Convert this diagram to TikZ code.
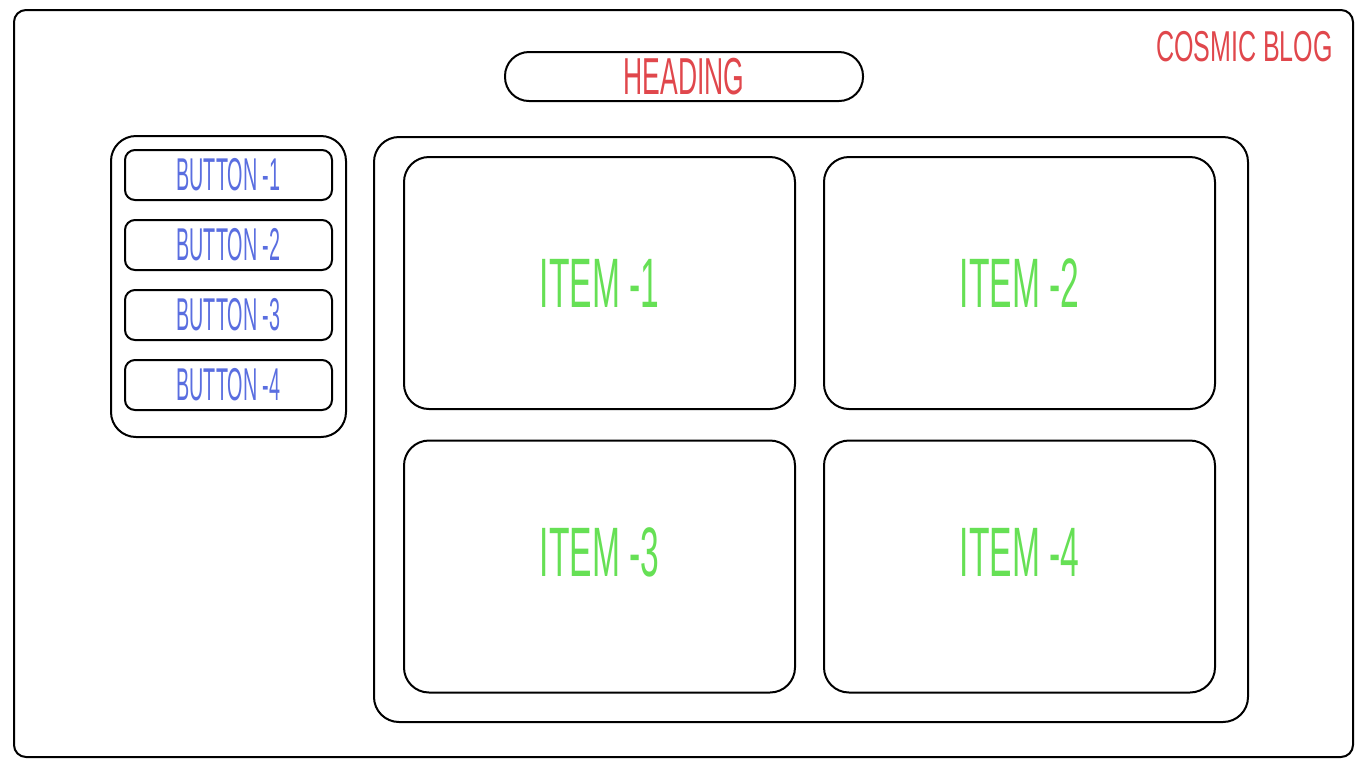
\documentclass[tikz,border=0pt]{standalone}
\usepackage{fontspec}
\setmainfont{Liberation Sans}
\definecolor{blogred}{HTML}{E0474C}
\definecolor{btnblue}{HTML}{5A6EE0}
\definecolor{itemgreen}{HTML}{66E055}
\newcommand{\slim}[2]{\scalebox{#1}[1]{#2}}

\begin{document}
\begin{tikzpicture}[x=0.5pt,y=-0.5pt,
  box/.style={draw,line width=1pt,inner sep=0pt,outer sep=0pt},
  pagebox/.style={box,rounded corners=6pt,minimum width=669.5pt,minimum height=373.5pt},
  headbox/.style={box,rounded corners=12pt,minimum width=179pt,minimum height=24.5pt,
    text=blogred,font=\fontsize{26}{26}\selectfont},
  sidebox/.style={box,rounded corners=12.5pt,minimum width=117.5pt,minimum height=150.5pt},
  btnbox/.style={box,rounded corners=5pt,minimum width=103.5pt,minimum height=25pt,
    text=btnblue,font=\fontsize{23}{23}\selectfont},
  mainbox/.style={box,rounded corners=12.5pt,minimum width=437pt,minimum height=292.5pt},
  itembox/.style={box,rounded corners=12.5pt,minimum width=195.5pt,minimum height=126pt,
    text=itemgreen,font=\fontsize{35}{35}\selectfont},
  lowitem/.style={itembox,text depth=14pt},
  brand/.style={text=blogred,inner sep=0pt,font=\fontsize{21.6}{21.6}\selectfont}]
  \useasboundingbox (0,0) rectangle (1366,768);
  % frames
  \node[pagebox] (page) at (683.5,383.5) {};
  \node[brand] (blog) at (1244.5,46.5) {\slim{0.58}{COSMIC BLOG}};
  \node[headbox] (heading) at (684,76.5) {\slim{0.51}{HEADING}};
  % sidebar
  \node[sidebox] (side) at (228.5,286.5) {};
  \foreach \i/\y in {1/175,2/245,3/315,4/385}
    \node[btnbox] (btn\i) at (228.5,\y) {\slim{0.43}{BUTTON -\i}};
  % items
  \node[mainbox] (main) at (811,429.5) {};
  \node[itembox] (item1) at (599.5,283) {\slim{0.48}{ITEM -1}};
  \node[itembox] (item2) at (1019.5,283) {\slim{0.48}{ITEM -2}};
  \node[lowitem] (item3) at (599.5,566.5) {\slim{0.48}{ITEM -3}};
  \node[lowitem] (item4) at (1019.5,566.5) {\slim{0.48}{ITEM -4}};
\end{tikzpicture}
\end{document}
